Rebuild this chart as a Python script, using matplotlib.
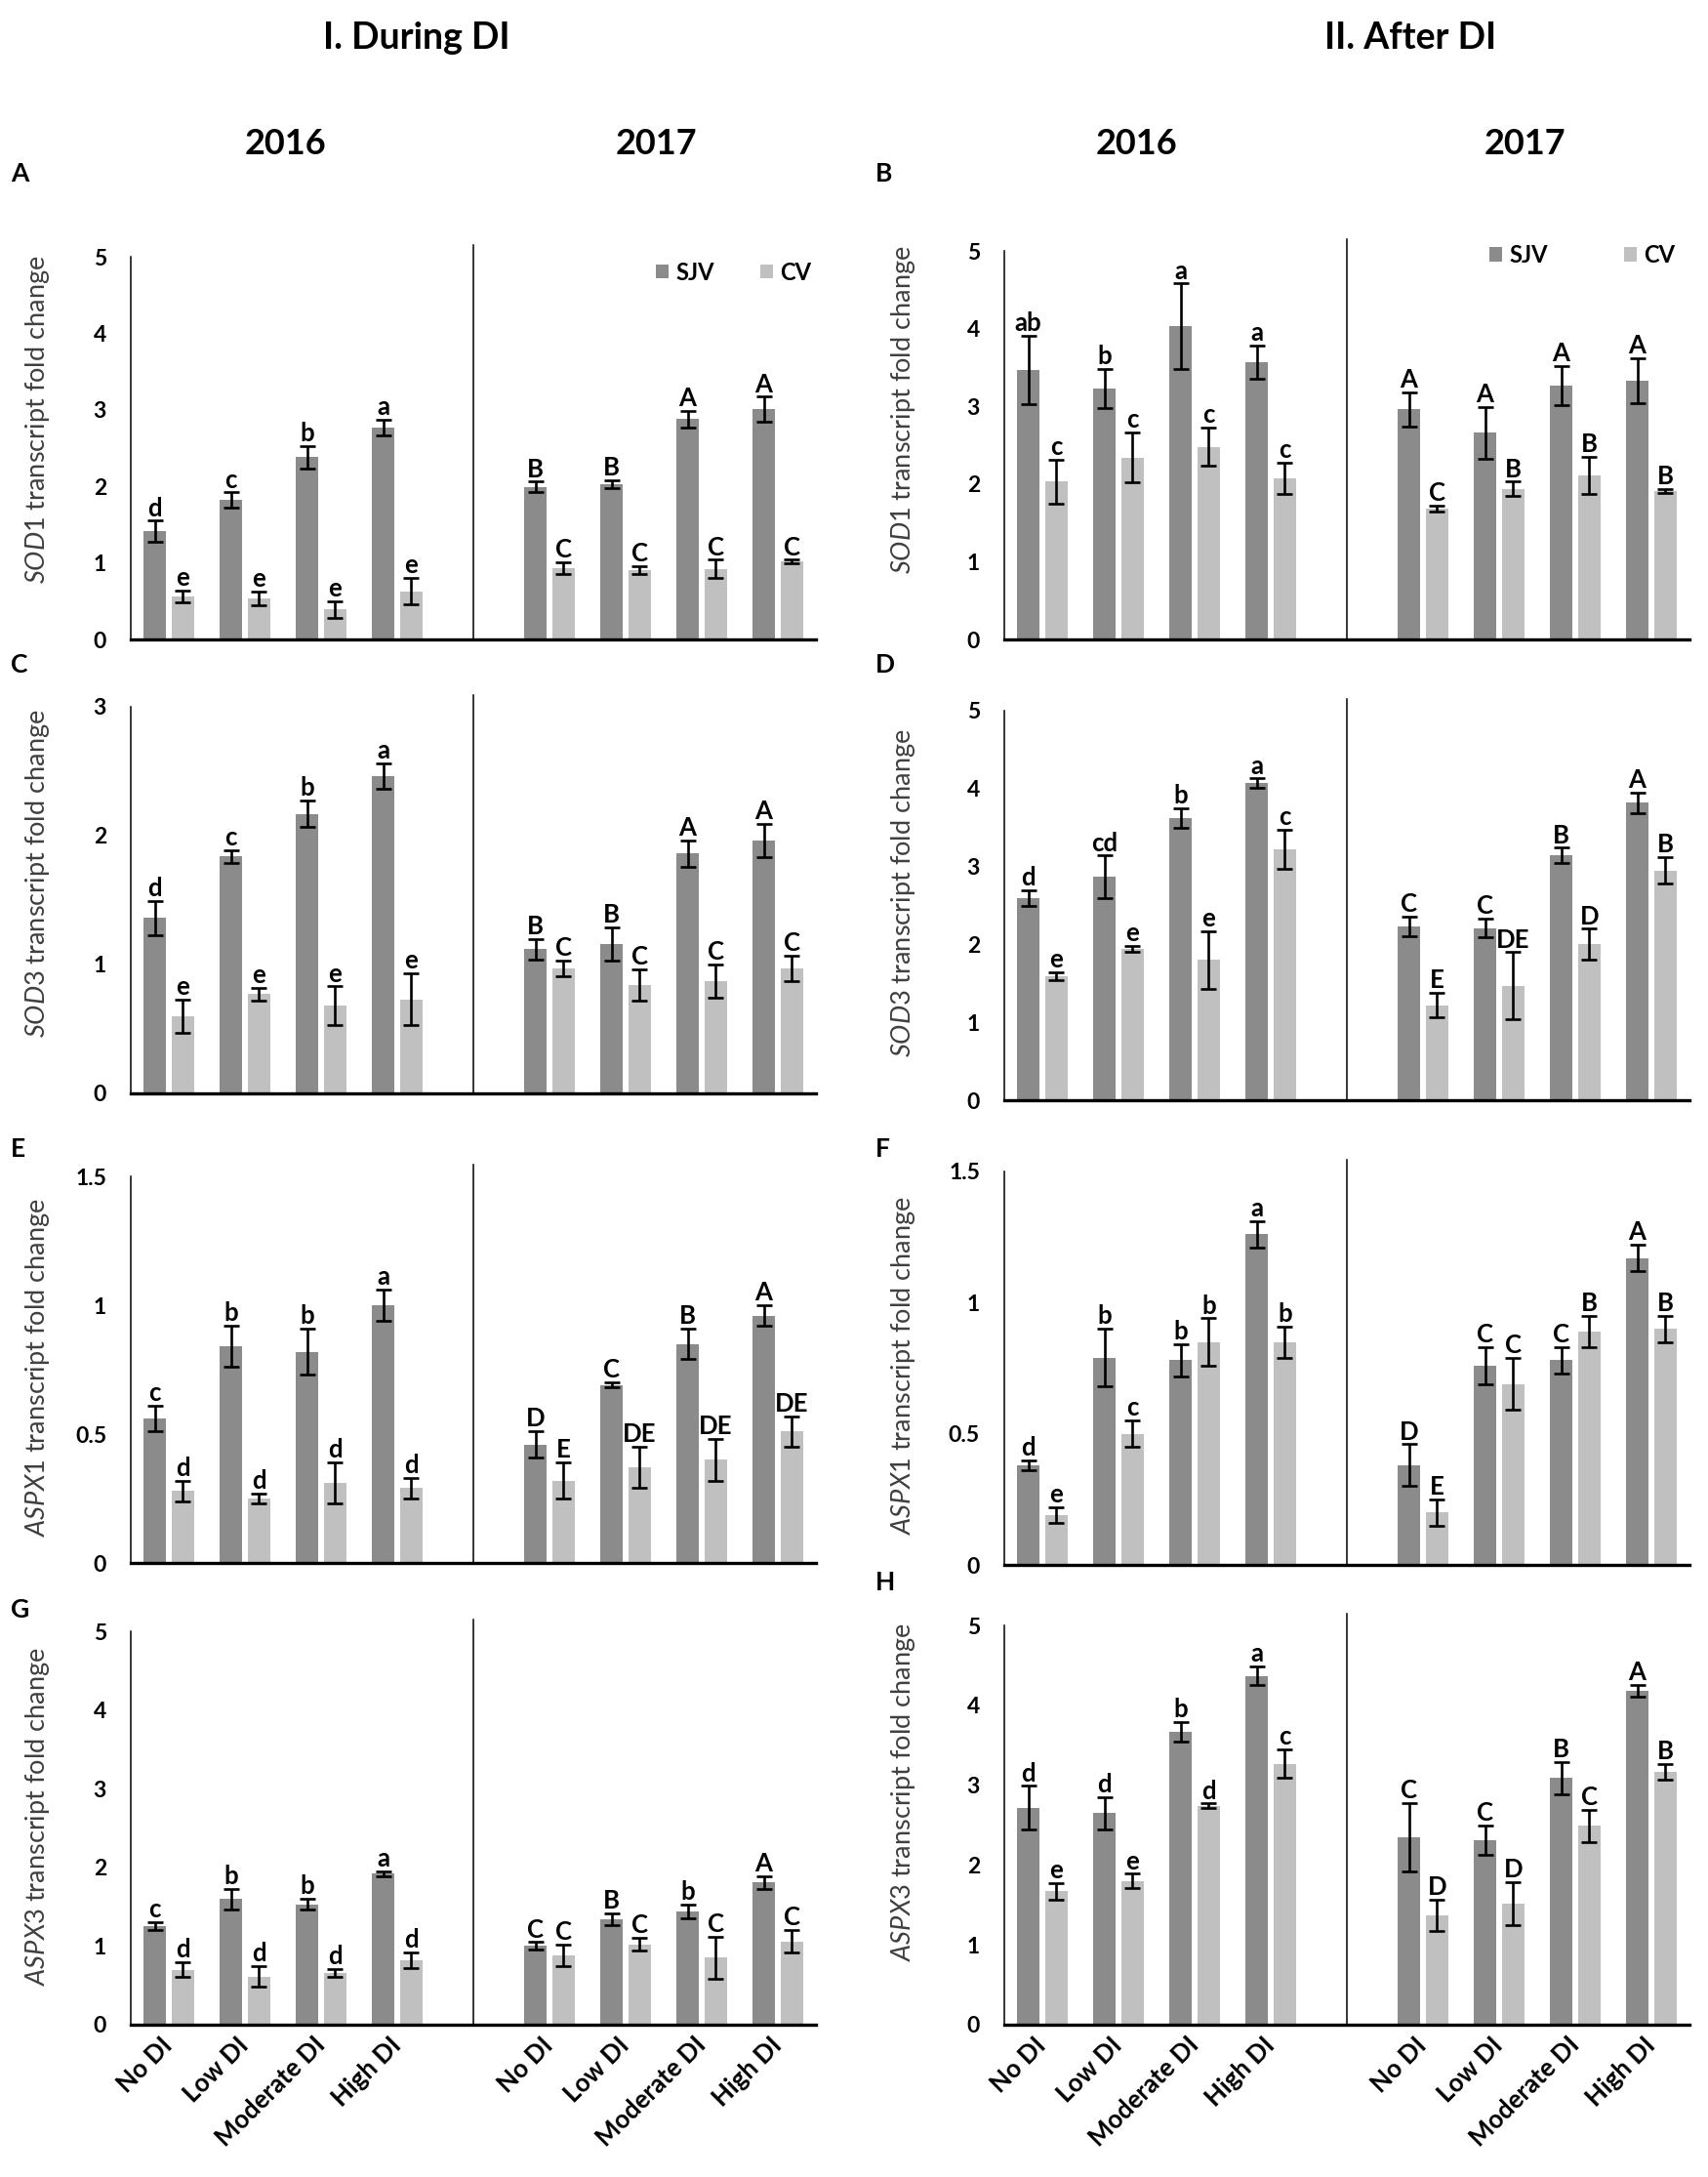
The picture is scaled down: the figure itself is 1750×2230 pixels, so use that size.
import numpy as np
import matplotlib
matplotlib.use('Agg')
import matplotlib.pyplot as plt
from matplotlib.patches import Patch

plt.rcParams.update({
    'font.family': ['Lato', 'DejaVu Sans'],
    'mathtext.fontset': 'custom',
    'mathtext.it': 'Lato:italic',
    'mathtext.rm': 'Lato',
    'axes.spines.top': False, 'axes.spines.right': False,
})

# ---- data: 2016 groups then 2017 groups (No, Low, Moderate, High DI) ----
TREATMENTS = ['No DI', 'Low DI', 'Moderate DI', 'High DI']

# A: SOD1 during DI
A_SJV = [1.41, 1.82, 2.38, 2.77, 1.99, 2.03, 2.88, 3.01]
A_SJV_ERR = [0.14, 0.10, 0.15, 0.10, 0.07, 0.05, 0.11, 0.16]
A_CV = [0.56, 0.54, 0.39, 0.63, 0.93, 0.91, 0.92, 1.02]
A_CV_ERR = [0.08, 0.09, 0.11, 0.17, 0.08, 0.05, 0.12, 0.02]
A_SJV_LET = ['d', 'c', 'b', 'a', 'B', 'B', 'A', 'A']
A_CV_LET = ['e', 'e', 'e', 'e', 'C', 'C', 'C', 'C']

# B: SOD1 after DI
B_SJV = [3.47, 3.23, 4.03, 3.57, 2.96, 2.66, 3.27, 3.33]
B_SJV_ERR = [0.44, 0.25, 0.55, 0.21, 0.22, 0.33, 0.25, 0.29]
B_CV = [2.03, 2.34, 2.48, 2.07, 1.68, 1.94, 2.11, 1.91]
B_CV_ERR = [0.28, 0.32, 0.25, 0.20, 0.04, 0.09, 0.24, 0.03]
B_SJV_LET = ['ab', 'b', 'a', 'a', 'A', 'A', 'A', 'A']
B_CV_LET = ['c', 'c', 'c', 'c', 'C', 'B', 'B', 'B']

# C: SOD3 during DI
C_SJV = [1.36, 1.84, 2.17, 2.46, 1.12, 1.16, 1.86, 1.96]
C_SJV_ERR = [0.13, 0.05, 0.10, 0.10, 0.08, 0.13, 0.10, 0.13]
C_CV = [0.60, 0.77, 0.68, 0.73, 0.97, 0.84, 0.87, 0.97]
C_CV_ERR = [0.13, 0.05, 0.15, 0.20, 0.06, 0.12, 0.13, 0.10]
C_SJV_LET = ['d', 'c', 'b', 'a', 'B', 'B', 'A', 'A']
C_CV_LET = ['e', 'e', 'e', 'e', 'C', 'C', 'C', 'C']

# D: SOD3 after DI
D_SJV = [2.60, 2.87, 3.62, 4.07, 2.23, 2.21, 3.14, 3.82]
D_SJV_ERR = [0.10, 0.27, 0.13, 0.06, 0.13, 0.12, 0.10, 0.13]
D_CV = [1.59, 1.94, 1.80, 3.22, 1.22, 1.47, 2.00, 2.95]
D_CV_ERR = [0.05, 0.04, 0.37, 0.25, 0.16, 0.43, 0.20, 0.17]
D_SJV_LET = ['d', 'cd', 'b', 'a', 'C', 'C', 'B', 'A']
D_CV_LET = ['e', 'e', 'e', 'c', 'E', 'DE', 'D', 'B']

# E: ASPX1 during DI
E_SJV = [0.56, 0.84, 0.82, 1.00, 0.46, 0.69, 0.85, 0.96]
E_SJV_ERR = [0.05, 0.08, 0.09, 0.06, 0.05, 0.01, 0.06, 0.04]
E_CV = [0.28, 0.25, 0.31, 0.29, 0.32, 0.37, 0.40, 0.51]
E_CV_ERR = [0.04, 0.02, 0.08, 0.04, 0.07, 0.08, 0.08, 0.06]
E_SJV_LET = ['c', 'b', 'b', 'a', 'D', 'C', 'B', 'A']
E_CV_LET = ['d', 'd', 'd', 'd', 'E', 'DE', 'DE', 'DE']

# F: ASPX1 after DI
F_SJV = [0.38, 0.79, 0.78, 1.26, 0.38, 0.76, 0.78, 1.17]
F_SJV_ERR = [0.02, 0.11, 0.06, 0.05, 0.08, 0.07, 0.05, 0.05]
F_CV = [0.19, 0.50, 0.85, 0.85, 0.20, 0.69, 0.89, 0.90]
F_CV_ERR = [0.03, 0.05, 0.09, 0.06, 0.05, 0.10, 0.06, 0.05]
F_SJV_LET = ['d', 'b', 'b', 'a', 'D', 'C', 'C', 'A']
F_CV_LET = ['e', 'c', 'b', 'b', 'E', 'C', 'B', 'B']

# G: ASPX3 during DI
G_SJV = [1.25, 1.60, 1.53, 1.92, 1.00, 1.34, 1.44, 1.81]
G_SJV_ERR = [0.05, 0.13, 0.07, 0.03, 0.05, 0.08, 0.09, 0.08]
G_CV = [0.70, 0.61, 0.66, 0.82, 0.88, 1.02, 0.85, 1.06]
G_CV_ERR = [0.09, 0.13, 0.05, 0.10, 0.14, 0.08, 0.27, 0.14]
G_SJV_LET = ['c', 'b', 'b', 'a', 'C', 'B', 'b', 'A']
G_CV_LET = ['d', 'd', 'd', 'd', 'C', 'C', 'C', 'C']

# H: ASPX3 after DI
H_SJV = [2.72, 2.65, 3.67, 4.37, 2.35, 2.31, 3.09, 4.18]
H_SJV_ERR = [0.27, 0.20, 0.12, 0.12, 0.43, 0.18, 0.20, 0.07]
H_CV = [1.67, 1.80, 2.74, 3.27, 1.37, 1.52, 2.49, 3.17]
H_CV_ERR = [0.10, 0.09, 0.03, 0.18, 0.20, 0.27, 0.20, 0.10]
H_SJV_LET = ['d', 'd', 'b', 'a', 'C', 'C', 'B', 'A']
H_CV_LET = ['e', 'e', 'd', 'c', 'D', 'D', 'C', 'B']

# ---- style ----
COL_SJV = '#8b8b8b'
COL_CV = '#c0c0c0'
COL_LABEL = '#3f3f3f'
FIG_W, FIG_H = 1750, 2230
POS = np.array([0, 1, 2, 3, 5, 6, 7, 8])   # slot 4 is the gap between years
OFF, BW = 0.185, 0.285


def px_box(left, right, top, bottom):
    return [left / FIG_W, 1 - bottom / FIG_H, (right - left) / FIG_W, (bottom - top) / FIG_H]


def fx(x):
    return x / FIG_W


def fy(y):
    return 1 - y / FIG_H


fig = plt.figure(figsize=(17.5, 22.3), dpi=100)

LX = (134, 836)
RX = (1029, 1731)
panels = [
    # letter, gene, data, x-range, (top, bottom), ymax, yticks, ylabel (x, y), letter pos
    ('A', 'SOD1', (A_SJV, A_SJV_ERR, A_CV, A_CV_ERR, A_SJV_LET, A_CV_LET), LX, (263, 655), 5,
     [0, 1, 2, 3, 4, 5], (39, 430), (11, 186)),
    ('B', 'SOD1', (B_SJV, B_SJV_ERR, B_CV, B_CV_ERR, B_SJV_LET, B_CV_LET), RX, (257, 655), 5,
     [0, 1, 2, 3, 4, 5], (925, 420), (897, 186)),
    ('C', 'SOD3', (C_SJV, C_SJV_ERR, C_CV, C_CV_ERR, C_SJV_LET, C_CV_LET), LX, (724, 1120), 3,
     [0, 1, 2, 3], (39, 895), (11, 689)),
    ('D', 'SOD3', (D_SJV, D_SJV_ERR, D_CV, D_CV_ERR, D_SJV_LET, D_CV_LET), RX, (728, 1127), 5,
     [0, 1, 2, 3, 4, 5], (925, 915), (897, 689)),
    ('E', 'ASPX1', (E_SJV, E_SJV_ERR, E_CV, E_CV_ERR, E_SJV_LET, E_CV_LET), LX, (1205, 1601), 1.5,
     [0, 0.5, 1, 1.5], (39, 1401), (11, 1185)),
    ('F', 'ASPX1', (F_SJV, F_SJV_ERR, F_CV, F_CV_ERR, F_SJV_LET, F_CV_LET), RX, (1200, 1603), 1.5,
     [0, 0.5, 1, 1.5], (925, 1399), (897, 1185)),
    ('G', 'ASPX3', (G_SJV, G_SJV_ERR, G_CV, G_CV_ERR, G_SJV_LET, G_CV_LET), LX, (1671, 2074), 5,
     [0, 1, 2, 3, 4, 5], (39, 1861), (11, 1657)),
    ('H', 'ASPX3', (H_SJV, H_SJV_ERR, H_CV, H_CV_ERR, H_SJV_LET, H_CV_LET), RX, (1665, 2074), 5,
     [0, 1, 2, 3, 4, 5], (925, 1836), (897, 1629)),
]

err_kw = dict(ecolor='black', elinewidth=1.9, capsize=6, capthick=1.9)

for letter, gene, data, xr, (top, bot), ymax, yticks, ylab, lpos in panels:
    sjv, sjv_err, cv, cv_err, sjv_let, cv_let = data
    ax = fig.add_axes(px_box(xr[0], xr[1], top, bot))
    ax.bar(POS - OFF, sjv, BW, color=COL_SJV, yerr=sjv_err, error_kw=err_kw, label='SJV', zorder=2)
    ax.bar(POS + OFF, cv, BW, color=COL_CV, yerr=cv_err, error_kw=err_kw, label='CV', zorder=2)

    for xs, vals, errs, lets in ((POS - OFF, sjv, sjv_err, sjv_let), (POS + OFF, cv, cv_err, cv_let)):
        for xi, v, e, t in zip(xs, vals, errs, lets):
            ax.annotate(t, (xi, v + e), xytext=(0, 3.5), textcoords='offset points',
                        ha='center', va='baseline', fontsize=18.5, fontweight='bold')

    ax.set_xlim(-0.5, 8.5)
    ax.set_ylim(0, ymax)
    ax.set_yticks(yticks)
    ax.set_yticklabels([f'{t:g}' for t in yticks], fontsize=16.5, fontweight='bold')
    ax.tick_params(axis='y', length=0, pad=18)
    ax.tick_params(axis='x', length=0)
    ax.spines['left'].set_linewidth(1.1)
    ax.spines['bottom'].set_linewidth(2.4)
    ax.axvline(4, ymin=0, ymax=1.03, color='black', lw=1.1, clip_on=False)

    if letter in ('G', 'H'):
        ax.set_xticks(POS)
        ax.set_xticklabels(TREATMENTS * 2, rotation=45, ha='right', va='center',
                           rotation_mode='anchor', fontsize=18.5, fontweight='bold')
        ax.tick_params(axis='x', pad=12)
    else:
        ax.set_xticks([])

    if letter in ('A', 'B'):
        handles = [Patch(facecolor=COL_SJV), Patch(facecolor=COL_CV)]
        anchor = (1.0, 1.0) if letter == 'A' else (0.985, 1.03)
        spacing = 2.0 if letter == 'A' else 3.3
        ax.legend(handles, ['SJV', 'CV'], ncol=2, loc='upper right', bbox_to_anchor=anchor,
                  frameon=False, handlelength=0.55, handleheight=0.55, handletextpad=0.3,
                  columnspacing=spacing, borderaxespad=0, borderpad=0.2,
                  prop={'size': 17, 'weight': 'bold'})

    fig.text(fx(ylab[0]), fy(ylab[1]), rf'$\it{{{gene}}}$ transcript fold change',
             rotation=90, ha='center', va='center', fontsize=19.5, color=COL_LABEL)
    fig.text(fx(lpos[0]), fy(lpos[1]), letter, ha='left', va='baseline',
             fontsize=19, fontweight='bold')

# ---- column and year headers ----
fig.text(fx(427), fy(39), 'I. During DI', ha='center', va='center', fontsize=27, fontweight='bold')
fig.text(fx(1445), fy(39), 'II. After DI', ha='center', va='center', fontsize=27, fontweight='bold')
for xc, yr in ((293, '2016'), (672, '2017'), (1164, '2016'), (1562, '2017')):
    fig.text(fx(xc), fy(148), yr, ha='center', va='center', fontsize=26, fontweight='bold')

fig.savefig('out.png', dpi=100, facecolor='white')
